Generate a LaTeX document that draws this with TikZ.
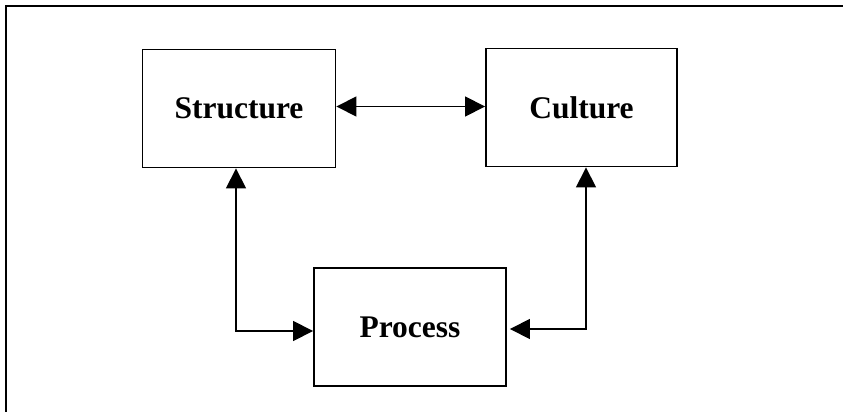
\documentclass[tikz,border=0pt]{standalone}
\usepackage{fontspec}
\setmainfont{Liberation Serif}
\usepackage{tikz}
\usetikzlibrary{arrows.meta}

\begin{document}
\begin{tikzpicture}[x=1pt, y=-1pt,
    box/.style={draw, line width=1.9pt, minimum width=193pt, minimum height=118pt,
        font=\fontsize{31.5}{36}\selectfont\bfseries},
    link/.style={line width=1.6pt, {Triangle[length=20pt,width=20pt]}-{Triangle[length=20pt,width=20pt]}}]
    \useasboundingbox (0,0) rectangle (843,412);
    \draw[line width=2pt] (6,412) -- (6,6) -- (843,6);
    \node[box] (struct) at (239,108.5) {Structure};
    \node[box, minimum width=191pt] (cult) at (581.5,107.5) {Culture};
    \node[box, minimum width=192pt] (proc) at (410,327) {Process};
    \draw[link] ([yshift=2pt]struct.east) -- ([yshift=2pt]struct.east -| cult.west);
    \draw[link] ([xshift=-3pt]struct.south) |- ([yshift=-4pt]proc.west);
    \draw[link] ([xshift=4.5pt]cult.south) |- ([xshift=3pt,yshift=-2pt]proc.east);
\end{tikzpicture}
\end{document}
